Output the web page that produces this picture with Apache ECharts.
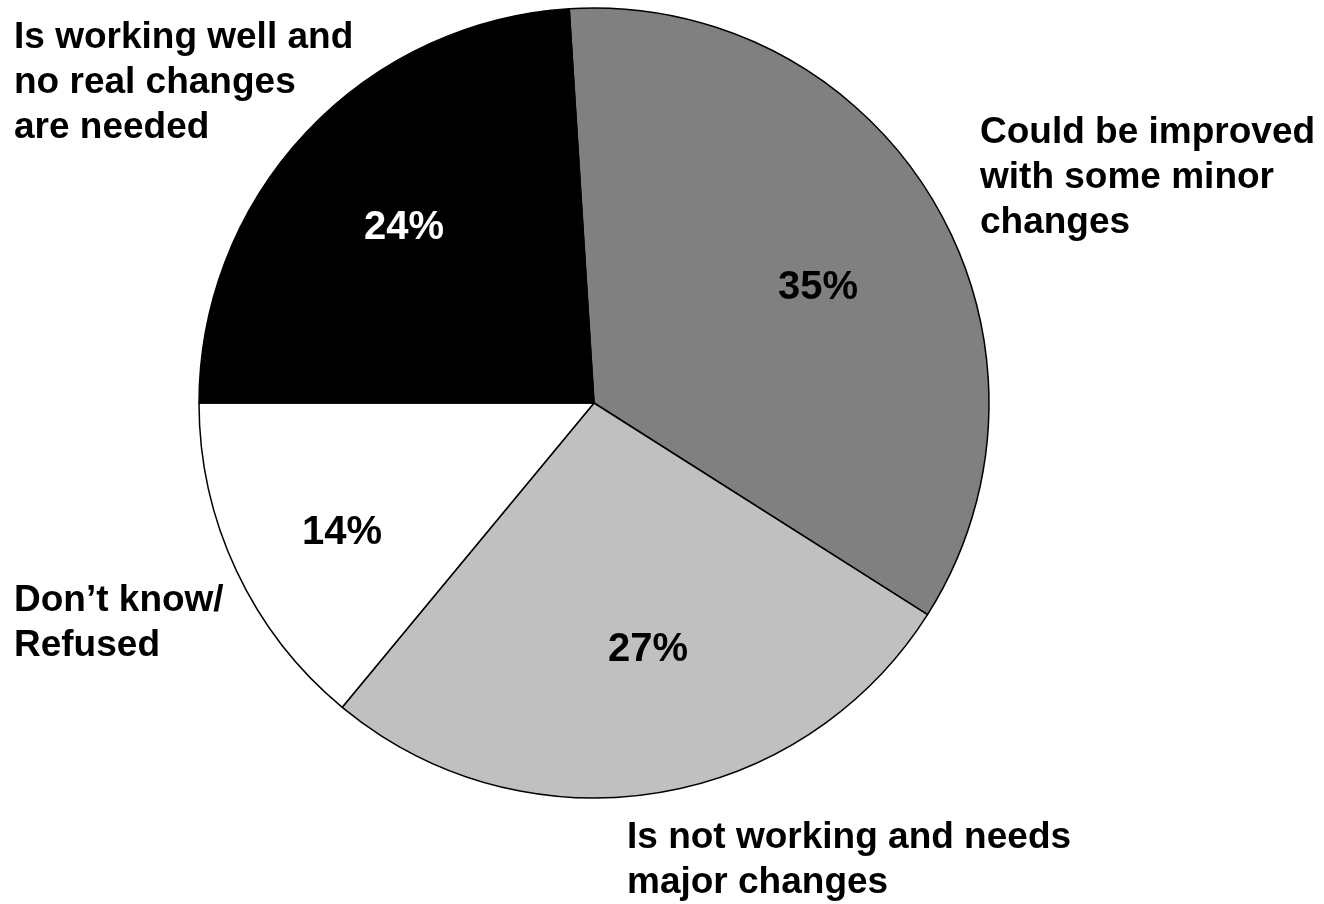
<!DOCTYPE html>
<html>
<head>
<meta charset="utf-8">
<script src="https://cdn.jsdelivr.net/npm/echarts@6/dist/echarts.min.js"></script>
<style>
html,body{margin:0;padding:0;background:#fff;}
#chart{width:1324px;height:904px;}
</style>
</head>
<body>
<div id="chart"></div>
<script>
// Data
var categories = [
  'Could be improved\nwith some minor\nchanges',
  'Is not working and needs\nmajor changes',
  'Don\u2019t know/\nRefused',
  'Is working well and\nno real changes\nare needed'
];
var values = [35, 27, 14, 24];

// Styles (kept separate from data)
var sliceColors = ['#808080', '#c0c0c0', '#ffffff', '#000000'];
var pctColors = ['#000000', '#000000', '#000000', '#ffffff'];
var nameLabelPos = [[980, 178], [627, 860], [14, 623], [14, 83]];
var pctLabelPos = [[818, 288], [648, 650], [342, 533], [404, 228]];

var FONT = '"Liberation Sans", Arial, Helvetica, sans-serif';

var pieData = categories.map(function (c, i) {
  return {
    name: c,
    value: values[i],
    itemStyle: { color: sliceColors[i] },
    label: { color: pctColors[i] }
  };
});
var nameData = categories.map(function (c, i) {
  return { name: c, value: values[i] };
});

var chart = echarts.init(document.getElementById('chart'), null, { renderer: 'canvas' });
chart.setOption({
  backgroundColor: '#ffffff',
  animation: false,
  series: [
    {
      type: 'pie',
      center: [594, 403],
      radius: 395,
      startAngle: 93.6,
      clockwise: true,
      silent: true,
      itemStyle: { borderColor: '#000000', borderWidth: 1.5 },
      label: {
        show: true,
        position: 'inside',
        formatter: '{c}%',
        fontFamily: FONT,
        fontWeight: 'bold',
        fontSize: 40,
        overflow: 'none'
      },
      labelLine: { show: false },
      labelLayout: function (p) {
        var pos = pctLabelPos[p.dataIndex];
        return { x: pos[0], y: pos[1], align: 'center', verticalAlign: 'middle' };
      },
      data: pieData
    },
    {
      type: 'pie',
      center: [594, 403],
      radius: 395,
      startAngle: 93.6,
      clockwise: true,
      silent: true,
      itemStyle: { color: 'rgba(0,0,0,0)', borderWidth: 0 },
      label: {
        show: true,
        position: 'inside',
        formatter: '{b}',
        color: '#000000',
        fontFamily: FONT,
        fontWeight: 'bold',
        fontSize: 37,
        lineHeight: 45,
        align: 'left',
        overflow: 'none'
      },
      labelLine: { show: false },
      labelLayout: function (p) {
        var pos = nameLabelPos[p.dataIndex];
        return { x: pos[0], y: pos[1], align: 'left', verticalAlign: 'middle', hideOverlap: false, moveOverlap: false };
      },
      data: nameData
    }
  ]
});
</script>
</body>
</html>
